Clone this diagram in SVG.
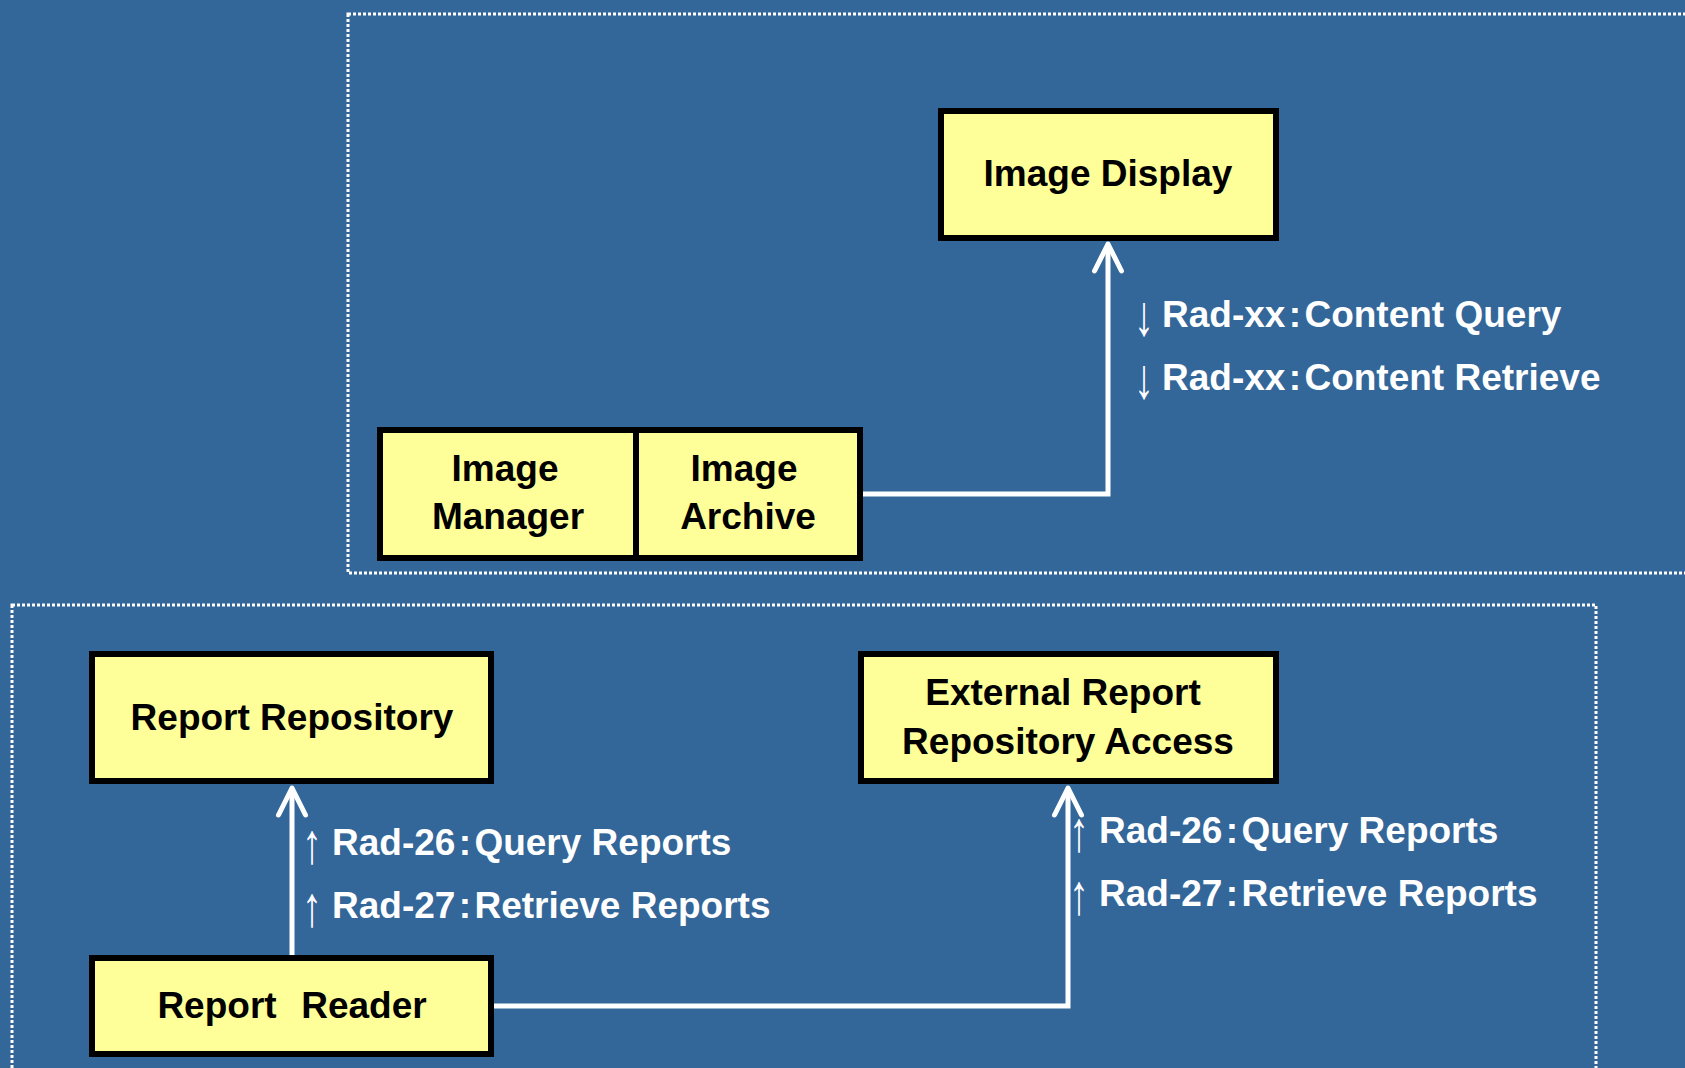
<svg xmlns="http://www.w3.org/2000/svg" width="1685" height="1068" viewBox="0 0 1685 1068">
<defs>
<style>
.bg{fill:#336699}
.zone{fill:none;stroke:#ffffff;stroke-width:3;stroke-dasharray:3 2}
.box{fill:#ffff99;stroke:#000000;stroke-width:6}
.div{stroke:#000000;stroke-width:6}
.nt{font-family:"Liberation Sans",Arial,sans-serif;font-weight:bold;font-size:37px;fill:#000000;text-anchor:middle}
.lb{font-family:"Liberation Sans",Arial,sans-serif;font-weight:bold;font-size:37px;fill:#ffffff}
.sp{font-size:12px}
.ar{font-family:"Liberation Sans",Arial,sans-serif;font-weight:normal;font-size:57px;fill:#ffffff;text-anchor:middle}
.conn{fill:none;stroke:#ffffff;stroke-width:5;stroke-linejoin:miter}
</style>
<marker id="head" markerUnits="userSpaceOnUse" markerWidth="40" markerHeight="40" viewBox="-32 -20 40 40" refX="0" refY="0" orient="auto">
<path d="M-27,-13.5 L0,0 L-27,13.5" fill="none" stroke="#ffffff" stroke-width="5" stroke-linejoin="round" stroke-linecap="round"/>
</marker>
</defs>
<rect class="bg" x="0" y="0" width="1685" height="1068"/>
<rect class="zone" x="348" y="14" width="1400" height="559"/>
<rect class="zone" x="12" y="605" width="1584" height="500"/>

<g id="connectors">
<path class="conn" d="M863,494 H1108 V244" marker-end="url(#head)"/>
<path class="conn" d="M292,955 V788" marker-end="url(#head)"/>
<path class="conn" d="M494,1006 H1068 V788" marker-end="url(#head)"/>
</g>

<g id="image-display">
<rect class="box" x="941" y="111" width="335" height="127"/>
<text class="nt" x="1108" y="186">Image Display</text>
</g>

<g id="image-manager-archive">
<rect class="box" x="380" y="430" width="480" height="128"/>
<line class="div" x1="636" y1="430" x2="636" y2="558"/>
<g id="image-manager">
<text class="nt" x="505" y="481">Image</text>
<text class="nt" x="508" y="529">Manager</text>
</g>
<g id="image-archive">
<text class="nt" x="744" y="481">Image</text>
<text class="nt" x="748" y="529">Archive</text>
</g>
</g>

<g id="report-repository">
<rect class="box" x="92" y="654" width="399" height="127"/>
<text class="nt" x="292" y="730">Report Repository</text>
</g>

<g id="external-report-repository-access">
<rect class="box" x="861" y="654" width="415" height="127"/>
<text class="nt" x="1063" y="705">External Report</text>
<text class="nt" x="1068" y="754">Repository Access</text>
</g>

<g id="report-reader">
<rect class="box" x="92" y="958" width="399" height="96"/>
<text class="nt" x="292" y="1018" xml:space="preserve">Report  <tspan dx="4">Reader</tspan></text>
</g>

<g id="labels">
<text class="ar" transform="translate(1144,335) scale(0.7,1)">↓</text>
<text class="lb" x="1162" y="327">Rad-xx<tspan class="sp"> </tspan>:<tspan class="sp"> </tspan>Content Query</text>
<text class="ar" transform="translate(1144,398) scale(0.7,1)">↓</text>
<text class="lb" x="1162" y="390">Rad-xx<tspan class="sp"> </tspan>:<tspan class="sp"> </tspan>Content Retrieve</text>

<text class="ar" transform="translate(312,863) scale(0.7,1)">↑</text>
<text class="lb" x="332" y="855">Rad-26<tspan class="sp"> </tspan>:<tspan class="sp"> </tspan>Query Reports</text>
<text class="ar" transform="translate(312,926) scale(0.7,1)">↑</text>
<text class="lb" x="332" y="918">Rad-27<tspan class="sp"> </tspan>:<tspan class="sp"> </tspan>Retrieve Reports</text>

<text class="ar" transform="translate(1079,851) scale(0.7,1)">↑</text>
<text class="lb" x="1099" y="843">Rad-26<tspan class="sp"> </tspan>:<tspan class="sp"> </tspan>Query Reports</text>
<text class="ar" transform="translate(1079,914) scale(0.7,1)">↑</text>
<text class="lb" x="1099" y="906">Rad-27<tspan class="sp"> </tspan>:<tspan class="sp"> </tspan>Retrieve Reports</text>
</g>
</svg>
